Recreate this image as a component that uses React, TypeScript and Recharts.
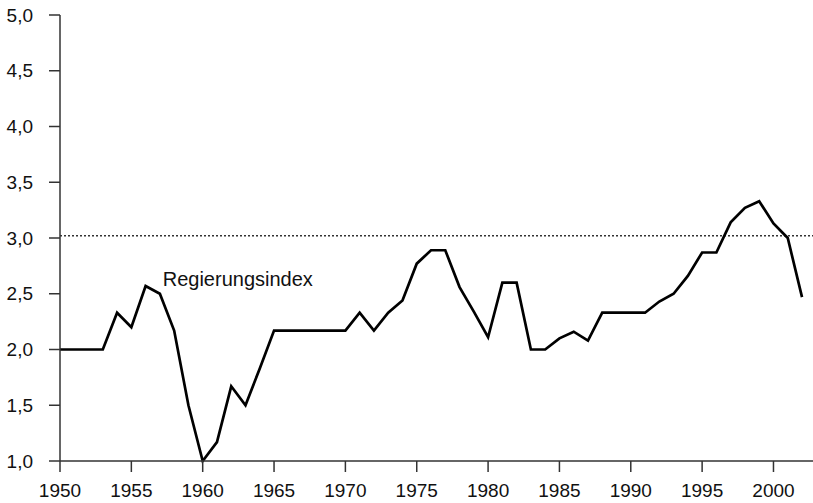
import { LineChart, Line, XAxis, YAxis, ReferenceLine, ReferenceDot } from 'recharts'

const years = [
  1950, 1951, 1952, 1953, 1954, 1955, 1956, 1957, 1958, 1959,
  1960, 1961, 1962, 1963, 1964, 1965, 1966, 1967, 1968, 1969,
  1970, 1971, 1972, 1973, 1974, 1975, 1976, 1977, 1978, 1979,
  1980, 1981, 1982, 1983, 1984, 1985, 1986, 1987, 1988, 1989,
  1990, 1991, 1992, 1993, 1994, 1995, 1996, 1997, 1998, 1999,
  2000, 2001, 2002,
]

const regierungsindex = [
  2.0, 2.0, 2.0, 2.0, 2.33, 2.2, 2.57, 2.5, 2.17, 1.5,
  1.0, 1.17, 1.67, 1.5, 1.83, 2.17, 2.17, 2.17, 2.17, 2.17,
  2.17, 2.33, 2.17, 2.33, 2.44, 2.77, 2.89, 2.89, 2.56, 2.34,
  2.11, 2.6, 2.6, 2.0, 2.0, 2.1, 2.16, 2.08, 2.33, 2.33,
  2.33, 2.33, 2.43, 2.5, 2.66, 2.87, 2.87, 3.14, 3.27, 3.33,
  3.13, 3.0, 2.47,
]

const xTicks = [1950, 1955, 1960, 1965, 1970, 1975, 1980, 1985, 1990, 1995, 2000]
const yTicks = [1, 1.5, 2, 2.5, 3, 3.5, 4, 4.5, 5]

// Mittelwert-Linie (gepunktet)
const referenceValue = 3.02
const seriesLabel = 'Regierungsindex'
const labelAnchor = { year: 1957.2, value: 2.57 }

const FONT = '"Liberation Sans", Arial, Helvetica, sans-serif'
const AXIS = '#333'

function formatY(v: number): string {
  return v.toFixed(1).replace('.', ',')
}

export default function App() {
  const data = years.map((year, i) => ({ year, value: regierungsindex[i] }))

  return (
    <div style={{ position: 'absolute', left: 0, top: 0, width: 813, height: 503, background: '#fff' }}>
      <LineChart width={813} height={503} data={data} margin={{ top: 15, right: 0, left: 0, bottom: 0 }}>
        <XAxis
          dataKey="year"
          type="number"
          domain={[1950, 2002.77]}
          allowDataOverflow
          ticks={xTicks}
          height={42}
          tickSize={11}
          tickMargin={12}
          stroke={AXIS}
          strokeWidth={1.5}
          tick={{ fontSize: 19, fill: '#111', fontFamily: FONT }}
        />
        <YAxis
          domain={[1, 5]}
          ticks={yTicks}
          width={60}
          tickSize={11}
          tickMargin={16}
          stroke={AXIS}
          strokeWidth={1.5}
          tickFormatter={formatY}
          tick={{ fontSize: 19, fill: '#111', fontFamily: FONT }}
        />
        <ReferenceLine y={referenceValue} stroke={AXIS} strokeWidth={1.3} strokeDasharray="2 2" />
        <ReferenceDot
          x={labelAnchor.year}
          y={labelAnchor.value}
          r={0}
          fill="none"
          stroke="none"
          label={(props: any) => (
            <text
              x={props.viewBox.x}
              y={props.viewBox.y}
              fontSize={20}
              fontFamily={FONT}
              fill="#111"
              textAnchor="start"
            >
              {seriesLabel}
            </text>
          )}
        />
        <Line
          type="linear"
          dataKey="value"
          stroke="#000"
          strokeWidth={2.7}
          dot={false}
          isAnimationActive={false}
        />
      </LineChart>
    </div>
  )
}
